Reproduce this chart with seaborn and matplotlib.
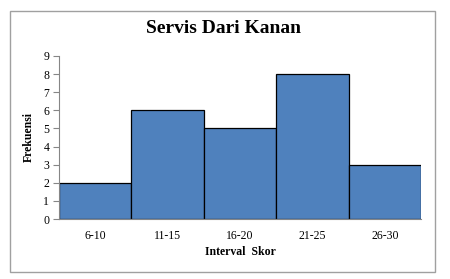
"""
histogram-like bar chart: Servis Dari Kanan
"""
import matplotlib as mpl
mpl.use('Agg')
from matplotlib import pyplot as plt
import seaborn as sns
import pandas as pd

sns.set_style('white')
plt.rcParams['font.family'] = ['Liberation Serif', 'DejaVu Serif']
plt.rcParams.update({'text.color': 'black', 'axes.labelcolor': 'black',
                     'xtick.color': 'black', 'ytick.color': 'black'})

intervals = ['6-10', '11-15', '16-20', '21-25', '26-30']
frekuensi = [2, 6, 5, 8, 3]
y_ticks = list(range(0, 10))

bar_blue = '#4F81BD'
axis_grey = '#868686'

df = pd.DataFrame({'Interval Skor': intervals, 'Frekuensi': frekuensi})

fig = plt.figure(figsize=(4.5, 2.79), dpi=100)
ax = fig.add_axes([59/450, 1 - 219/279, (421 - 59)/450, (219 - 56)/279])

sns.barplot(data=df, x='Interval Skor', y='Frekuensi', ax=ax, color=bar_blue,
            width=1.0, edgecolor='black', linewidth=0.9, saturation=1)

ax.set_xlim(-0.5, 4.5)
ax.set_ylim(0, 9)
ax.set_yticks(y_ticks)
ax.tick_params(axis='y', labelsize=8.5, length=4, width=0.8, color=axis_grey, pad=3, left=True)
ax.tick_params(axis='x', labelsize=8.5, length=0, pad=8)
for side in ['top', 'right']:
    ax.spines[side].set_visible(False)
for side in ['left', 'bottom']:
    ax.spines[side].set_color(axis_grey)
    ax.spines[side].set_linewidth(0.8)

ax.set_xlabel('Interval  Skor', fontsize=8.5, fontweight='bold', labelpad=3)
ax.set_ylabel('Frekuensi', fontsize=8.5, fontweight='bold', labelpad=6)
fig.suptitle('Servis Dari Kanan', fontsize=14, fontweight='bold', x=223/450, y=1 - 20/279)

# outer chart frame
frame = mpl.patches.Rectangle((10/450, 1 - 272/279), 425/450, 261/279,
                              transform=fig.transFigure, fill=False,
                              edgecolor='#A0A0A0', linewidth=1.0)
fig.patches.append(frame)

fig.savefig('out.png', dpi=100)
